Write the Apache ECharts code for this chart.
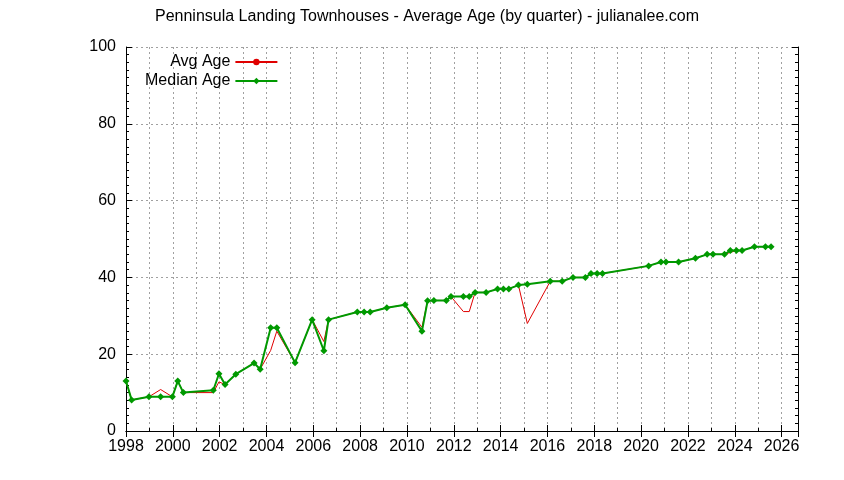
<!DOCTYPE html>
<html>
<head>
<meta charset="utf-8">
<script src="https://cdn.jsdelivr.net/npm/echarts@6/dist/echarts.min.js"></script>
<style>
  html, body { margin: 0; padding: 0; background: #fff; }
  #chart { width: 844px; height: 480px; }
</style>
</head>
<body>
<div id="chart"></div>
<script>
// quarter dates (as decimal years)
const years = [1998.0, 1998.24, 1998.98, 1999.48, 1999.98, 2000.21, 2000.45, 2001.73, 2001.97, 2002.23,
  2002.69, 2003.47, 2003.73, 2004.18, 2004.44, 2005.22, 2005.95, 2006.45, 2006.65, 2007.88,
  2008.17, 2008.43, 2009.14, 2009.92, 2010.64, 2010.88, 2011.15, 2011.68, 2011.88, 2012.41,
  2012.66, 2012.91, 2013.38, 2013.87, 2014.12, 2014.35, 2014.76, 2015.14, 2016.12, 2016.63,
  2017.09, 2017.62, 2017.86, 2018.12, 2018.35, 2020.32, 2020.85, 2021.06, 2021.6, 2022.32,
  2022.82, 2023.07, 2023.56, 2023.81, 2024.07, 2024.31, 2024.84, 2025.31, 2025.55];
const medianAge = [13, 8.1, 8.9, 8.9, 8.9, 13, 10, 10.6, 14.9, 12.1,
  14.8, 17.7, 16.1, 26.9, 26.9, 17.8, 29, 20.9, 29, 31,
  31, 31, 32.1, 32.9, 26, 33.9, 34, 34, 35, 35,
  35, 36.1, 36.1, 37, 37, 37, 38, 38.2, 39, 39,
  40, 40, 41, 41, 41, 43, 44, 44, 44, 45,
  46, 46, 46, 47, 47, 47, 48, 48, 48];
const avgAge = [13, 8.1, 8.9, 10.8, 8.9, 13, 10, 10, 12.8, 12.1,
  14.8, 17.7, 16.1, 21, 26, 17.8, 29, 23.3, 29, 31,
  31, 31, 32.1, 32.9, 27, 33.9, 34, 34, 35, 31.1,
  31.1, 36.1, 36.1, 37, 37, 37, 38, 28, 39, 39,
  40, 40, 41, 41, 41, 43, 44, 44, 44, 45,
  46, 46, 46, 46.5, 47, 47, 48, 48, 48];

const pair = (ys) => years.map((x, i) => [x, ys[i]]);
const font = 'Liberation Sans, Arial, sans-serif';
const gridLine = { show: true, lineStyle: { color: '#a0a0a0', type: [2, 3], width: 1 } };

const chart = echarts.init(document.getElementById('chart'));
chart.setOption({
  animation: false,
  title: {
    text: 'Penninsula Landing Townhouses - Average Age (by quarter) - julianalee.com',
    left: 422, top: 4, textAlign: 'center',
    textStyle: { fontFamily: font, fontSize: 16, fontWeight: 'normal', color: '#000' }
  },
  legend: {
    orient: 'vertical', left: 140, top: 49, align: 'right',
    itemWidth: 42, itemHeight: 8, itemGap: 3,
    textStyle: { fontFamily: font, fontSize: 16, color: '#000' },
    data: ['Avg Age', 'Median Age']
  },
  grid: { left: 126, right: 46, top: 47, bottom: 49 },
  xAxis: [{
    type: 'value', min: 1998, max: 2026.7, interval: 2,
    axisLine: { lineStyle: { color: '#000' } },
    axisTick: { inside: true, length: 6, lineStyle: { color: '#000' } },
    minorTick: { show: true, splitNumber: 2, length: 3, lineStyle: { color: '#000' } },
    splitLine: gridLine,
    minorSplitLine: gridLine,
    axisLabel: { fontFamily: font, fontSize: 16, color: '#000', showMaxLabel: false,
      formatter: (v) => String(v) },
  }, {
    type: 'value', position: 'top', min: 1998, max: 2026.7, interval: 2,
    axisLine: { show: true, lineStyle: { color: '#000' } },
    axisTick: { show: true, inside: true, length: 6, lineStyle: { color: '#000' } },
    axisLabel: { show: false }, splitLine: { show: false }
  }],
  yAxis: [{
    type: 'value', min: 0, max: 100, interval: 20,
    axisLine: { show: true, lineStyle: { color: '#000' } },
    axisTick: { show: true, inside: true, length: 6, lineStyle: { color: '#000' } },
    minorTick: { show: true, splitNumber: 10, length: 3, lineStyle: { color: '#000' } },
    splitLine: gridLine,
    axisLabel: { fontFamily: font, fontSize: 16, color: '#000', margin: 10 }
  }, {
    type: 'value', position: 'right', min: 0, max: 100, interval: 20,
    axisLine: { show: true, lineStyle: { color: '#000' } },
    axisTick: { show: true, inside: true, length: 6, lineStyle: { color: '#000' } },
    minorTick: { show: true, splitNumber: 10, length: 3, lineStyle: { color: '#000' } },
    axisLabel: { show: false }, splitLine: { show: false }
  }],
  series: [{
    name: 'Avg Age', type: 'line', data: pair(avgAge), showSymbol: false, symbol: 'none',
    lineStyle: { color: '#e00000', width: 1 }, itemStyle: { color: '#e00000' }, z: 2
  }, {
    name: 'Median Age', type: 'line', data: pair(medianAge),
    symbol: 'diamond', symbolSize: 7,
    lineStyle: { color: '#009900', width: 2 }, itemStyle: { color: '#009900' }, z: 3
  }]
});
</script>
</body>
</html>
